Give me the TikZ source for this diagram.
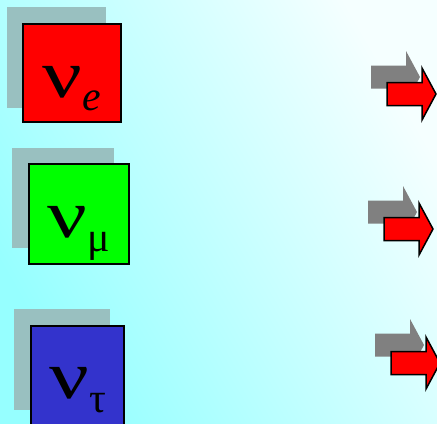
\documentclass[tikz,border=0pt]{standalone}
\usepackage{fontspec}
\setmainfont{Liberation Serif}
\definecolor{bgcyan}{RGB}{150,255,255}
\definecolor{bgwhite}{RGB}{245,255,255}
\definecolor{shadowc}{RGB}{153,192,192}
\definecolor{boxred}{RGB}{255,0,0}
\definecolor{boxgreen}{RGB}{0,255,0}
\definecolor{boxblue}{RGB}{51,51,204}
\definecolor{arrgray}{RGB}{128,128,128}
\newcommand\fatarrow[3]{%
  \path[#3] (#1,#2-11.5) -- ++(35,0) -- ++(0,-14.5) -- ++(14,26)
    -- ++(-14,26) -- ++(0,-14.5) -- ++(-35,0) -- cycle;}
\newcommand\wnu{\scalebox{1.3}[1]{ν}}
\begin{document}
\begin{tikzpicture}[x=1bp,y=-1bp,
  shadowbox/.style={fill=shadowc, draw=none},
  flavbox/.style={draw=black, line width=1.5bp, inner sep=0pt},
  bigtext/.style={anchor=base, inner sep=0pt, font=\fontsize{68}{68}\selectfont},
  redarrow/.style={fill=boxred, draw=black, line width=1.5bp, line join=miter},
  grayarrow/.style={fill=arrgray}]
\useasboundingbox (0,0) rectangle (437,423);
\clip (0,0) rectangle (437,423);
\shade[top color=bgwhite, bottom color=bgcyan, shading angle=-60] (0,0) rectangle (437,423);
% shadows
\fill[shadowbox] (7,7) rectangle (106,108);
\fill[shadowbox] (12,148) rectangle (114,248);
\fill[shadowbox] (14,309) rectangle (110,410);
% boxes
\node[flavbox, fill=boxred, minimum width=98bp, minimum height=98bp] (boxe) at (72,73) {};
\node[flavbox, fill=boxgreen, minimum width=100bp, minimum height=100bp] (boxmu) at (79,214) {};
\node[flavbox, fill=boxblue, minimum width=93bp, minimum height=100bp] (boxtau) at (77.5,376) {};
% labels
\node[bigtext] (labe) at (71.5,97) {\wnu\raisebox{-13bp}{\fontsize{42}{42}\selectfont\itshape e}};
\node[bigtext] (labmu) at (78.5,237) {\wnu\raisebox{-14bp}{\fontsize{42}{42}\selectfont μ}};
\node[bigtext] (labtau) at (77.5,398) {\wnu\raisebox{-14bp}{\fontsize{42}{42}\selectfont τ}};
% arrows
\fatarrow{371}{77}{grayarrow}
\fatarrow{387}{94}{redarrow}
\fatarrow{368}{212}{grayarrow}
\fatarrow{384}{229}{redarrow}
\fatarrow{375}{345}{grayarrow}
\fatarrow{391}{363}{redarrow}
\end{tikzpicture}
\end{document}
